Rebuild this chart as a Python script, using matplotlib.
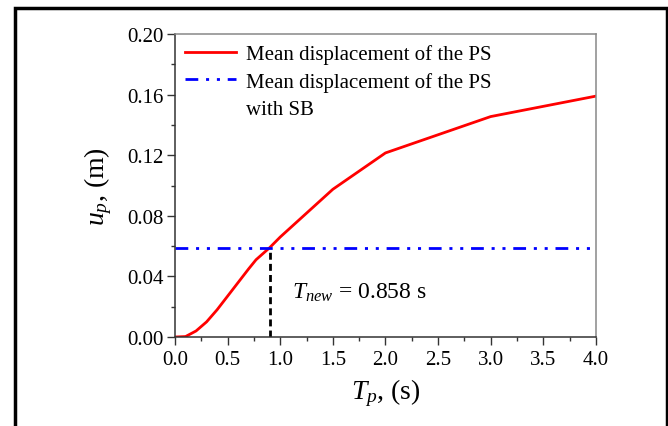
import matplotlib
matplotlib.use("Agg")
import matplotlib.pyplot as plt
from matplotlib.patches import Rectangle
from matplotlib.ticker import MultipleLocator

plt.rcParams['font.family'] = ['Liberation Serif', 'DejaVu Serif']
plt.rcParams['mathtext.fontset'] = 'custom'
plt.rcParams['mathtext.rm'] = 'Liberation Serif'
plt.rcParams['mathtext.it'] = 'Liberation Serif:italic'

# data
Tp = [0.0, 0.1, 0.2, 0.3, 0.4, 0.5, 0.6, 0.7, 0.77, 0.9, 1.0, 1.5, 2.0, 3.0, 4.0]
up = [0.0, 0.0003, 0.004, 0.010, 0.018, 0.027, 0.036, 0.045, 0.051, 0.059, 0.066, 0.0975, 0.1215, 0.1455, 0.159]
up_sb = 0.059
T_new = 0.9
x_ticks = [0.0, 0.5, 1.0, 1.5, 2.0, 2.5, 3.0, 3.5, 4.0]
y_ticks = [0.00, 0.04, 0.08, 0.12, 0.16, 0.20]

fig = plt.figure(figsize=(6.68, 4.27), dpi=100)
ax = fig.add_axes([0.262, 0.2084, 0.630, 0.7096])

ax.plot(Tp, up, color='red', lw=2, label='Mean displacement of the PS')
ax.axhline(up_sb, color='blue', lw=2, linestyle=(0, (4.6, 2.8, 1.1, 2.8, 1.1, 2.8)),
           label='Mean displacement of the PS')
# second line of the blue label, handle hidden
ax.plot([], [], color='none', label='with SB')
ax.plot([T_new, T_new], [0, up_sb], color='black', lw=2, linestyle=(0, (2.5, 1.5)))
ax.text(1.11, 0.0297, r'$T_{new}$ = 0.858 s', fontsize=17, va='center')

ax.set_xlim(0, 4)
ax.set_ylim(0, 0.2)
ax.set_xticks(x_ticks)
ax.set_yticks(y_ticks)
ax.set_xticklabels(['%.1f' % v for v in x_ticks])
ax.set_yticklabels(['%.2f' % v for v in y_ticks])
ax.xaxis.set_minor_locator(MultipleLocator(0.25))
ax.yaxis.set_minor_locator(MultipleLocator(0.02))
ax.tick_params(which='major', direction='out', length=6, width=1, labelsize=15, pad=2, color='#333333')
ax.tick_params(axis='x', which='major', pad=3.5)
ax.tick_params(which='minor', direction='out', length=3, width=1, color='#333333')
for s in ['left', 'bottom']:
    ax.spines[s].set_color('#333333')
for s in ['top', 'right']:
    ax.spines[s].set_color('#888888')
for s in ax.spines.values():
    s.set_linewidth(1.1)

ax.set_xlabel(r'$T_p$, (s)', fontsize=20, labelpad=5)
ax.set_ylabel(r'$u_p$, (m)', fontsize=20, labelpad=10)

ax.legend(loc='upper left', frameon=False, fontsize=15, handlelength=2.45,
          handletextpad=0.48, labelspacing=0.36, borderaxespad=0.1,
          bbox_to_anchor=(0.0, 1.0))

fig.patches.append(Rectangle((15 / 668, -0.05), 652 / 668, 1.05 - 9 / 427,
                             transform=fig.transFigure, fill=False, lw=2.5,
                             edgecolor='black', clip_on=False))

fig.savefig('out.png', dpi=100)
